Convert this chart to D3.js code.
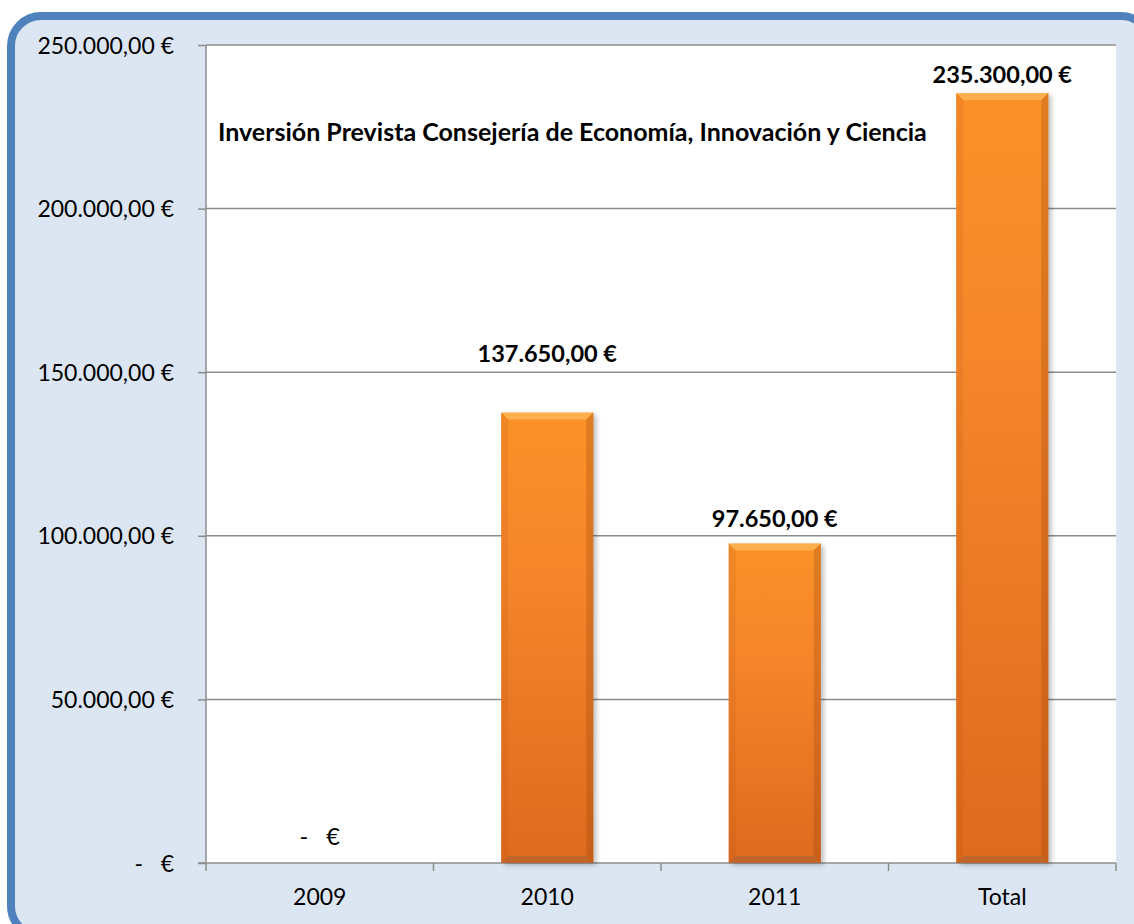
<!DOCTYPE html>
<html lang="es">
<head>
<meta charset="UTF-8">
<title>Inversión Prevista</title>
<script src="https://d3js.org/d3.v7.min.js"></script>
<style>
  html, body { margin: 0; padding: 0; overflow: hidden; background: #fff; }
  svg { display: block; }
  text { font-family: Lato, "Open Sans", sans-serif; fill: #000; }
</style>
</head>
<body>
<div id="chart"></div>
<script>

// data
const years = ["2009", "2010", "2011", "Total"];
const amounts = [0, 137650, 97650, 235300];
const yTicks = [0, 50000, 100000, 150000, 200000, 250000];
const title = "Inversión Prevista Consejería de Economía, Innovación y Ciencia";

// layout
const width = 1134, height = 924;
const plot = { left: 206, right: 1116, top: 45, bottom: 863 };
const labelLift = [18, 51, 16, 10]; // data labels were placed by hand in the original

// accounting style number: 137.650,00 €
function euro(v) {
  if (v === 0) return "-   €";
  const parts = v.toFixed(2).split(".");
  const int = parts[0].replace(/\B(?=(\d{3})+(?!\d))/g, ".");
  return int + "," + parts[1] + " €";
}

const svg = d3.select("#chart").append("svg")
  .attr("width", width)
  .attr("height", height);

const defs = svg.append("defs");

const grad = defs.append("linearGradient")
  .attr("id", "barFill")
  .attr("x1", 0).attr("y1", 0).attr("x2", 0).attr("y2", 1);
grad.append("stop").attr("offset", "0%").attr("stop-color", "#fb9128");
grad.append("stop").attr("offset", "35%").attr("stop-color", "#f5862a");
grad.append("stop").attr("offset", "100%").attr("stop-color", "#de6a1e");

const blur = defs.append("filter").attr("id", "shadow")
  .attr("x", "-20%").attr("y", "-5%").attr("width", "140%").attr("height", "110%");
blur.append("feGaussianBlur").attr("stdDeviation", 2.5);

// outer chart frame (runs off the right and bottom edges)
svg.append("rect")
  .attr("x", 11).attr("y", 16)
  .attr("width", 1140).attr("height", 920)
  .attr("rx", 30)
  .attr("fill", "#dce6f2")
  .attr("stroke", "#4f81bd")
  .attr("stroke-width", 8);

// plot area
svg.append("rect")
  .attr("x", plot.left).attr("y", plot.top)
  .attr("width", plot.right - plot.left).attr("height", plot.bottom - plot.top)
  .attr("fill", "#fff");

const x = d3.scaleBand()
  .domain(years)
  .range([plot.left, plot.right])
  .paddingInner(0.595)
  .paddingOuter(0.2975);

const y = d3.scaleLinear()
  .domain([0, 250000])
  .range([plot.bottom, plot.top]);

// gridlines
svg.append("g")
  .selectAll("line")
  .data(yTicks.slice(1))
  .join("line")
  .attr("x1", plot.left).attr("x2", plot.right)
  .attr("y1", d => y(d)).attr("y2", d => y(d))
  .attr("stroke", "#8c8c8c")
  .attr("stroke-width", 1.5);

// y axis
const yAxis = svg.append("g")
  .attr("transform", `translate(${plot.left},0)`)
  .call(d3.axisLeft(y).tickValues(yTicks).tickSize(8).tickPadding(24).tickFormat(euro));
yAxis.selectAll("line, path").attr("stroke", "#8c8c8c").attr("stroke-width", 1.5);
yAxis.select(".domain").attr("d", `M0,${plot.top}V${plot.bottom}`);
yAxis.selectAll("text")
  .style("font-family", "Lato, sans-serif")
  .style("font-size", "23px")
  .style("white-space", "pre")
  .attr("dy", "0.35em")
  .attr("fill", "#000");

// x axis (ticks between categories)
const bounds = d3.range(years.length + 1).map(i => plot.left + i * x.step());
svg.append("line")
  .attr("x1", plot.left - 8).attr("x2", plot.right)
  .attr("y1", plot.bottom).attr("y2", plot.bottom)
  .attr("stroke", "#8c8c8c").attr("stroke-width", 1.5);
svg.append("g")
  .selectAll("line")
  .data(bounds)
  .join("line")
  .attr("x1", d => d).attr("x2", d => d)
  .attr("y1", plot.bottom).attr("y2", plot.bottom + 8)
  .attr("stroke", "#8c8c8c").attr("stroke-width", 1.5);
svg.append("g")
  .selectAll("text")
  .data(years)
  .join("text")
  .attr("x", d => x(d) + x.bandwidth() / 2)
  .attr("y", plot.bottom + 42)
  .attr("text-anchor", "middle")
  .style("font-size", "23px")
  .text(d => d);

// bars with a bevel look
const rows = years.map((k, i) => ({ k, v: amounts[i], lift: labelLift[i] }));
const bars = svg.append("g")
  .selectAll("g")
  .data(rows.filter(d => d.v > 0))
  .join("g");

bars.append("rect")
  .attr("x", d => x(d.k) + 3)
  .attr("y", d => y(d.v) + 2)
  .attr("width", x.bandwidth())
  .attr("height", d => y(0) - y(d.v))
  .attr("fill", "#000")
  .attr("opacity", 0.25)
  .attr("filter", "url(#shadow)");

bars.append("rect")
  .attr("x", d => x(d.k))
  .attr("y", d => y(d.v))
  .attr("width", x.bandwidth())
  .attr("height", d => y(0) - y(d.v))
  .attr("fill", "url(#barFill)");

const b = 7;
function bevel(d, side) {
  const x0 = x(d.k), x1 = x0 + x.bandwidth(), y0 = y(d.v), y1 = y(0);
  if (side === "top") return `M${x0},${y0}H${x1}L${x1 - b},${y0 + b}H${x0 + b}Z`;
  if (side === "left") return `M${x0},${y0}L${x0 + b},${y0 + b}V${y1 - b}L${x0},${y1}Z`;
  if (side === "right") return `M${x1},${y0}L${x1 - b},${y0 + b}V${y1 - b}L${x1},${y1}Z`;
  return `M${x0},${y1}H${x1}L${x1 - b},${y1 - b}H${x0 + b}Z`;
}
bars.append("path").attr("d", d => bevel(d, "top")).attr("fill", "#ffd27a").attr("opacity", 0.45);
bars.append("path").attr("d", d => bevel(d, "left")).attr("fill", "#b34f10").attr("opacity", 0.14);
bars.append("path").attr("d", d => bevel(d, "right")).attr("fill", "#8a3a08").attr("opacity", 0.25);
bars.append("path").attr("d", d => bevel(d, "bottom")).attr("fill", "#7a5a4a").attr("opacity", 0.3);

// data labels
svg.append("g")
  .selectAll("text")
  .data(rows)
  .join("text")
  .attr("x", d => x(d.k) + x.bandwidth() / 2)
  .attr("y", d => y(d.v) - d.lift)
  .attr("text-anchor", "middle")
  .style("font-size", "23.5px")
  .style("font-weight", d => d.v === 0 ? "normal" : "bold")
  .style("white-space", "pre")
  .text(d => euro(d.v));

// title
svg.append("text")
  .attr("x", 218)
  .attr("y", 141)
  .style("font-size", "25px")
  .style("font-weight", "bold")
  .text(title);

</script>
</body>
</html>
